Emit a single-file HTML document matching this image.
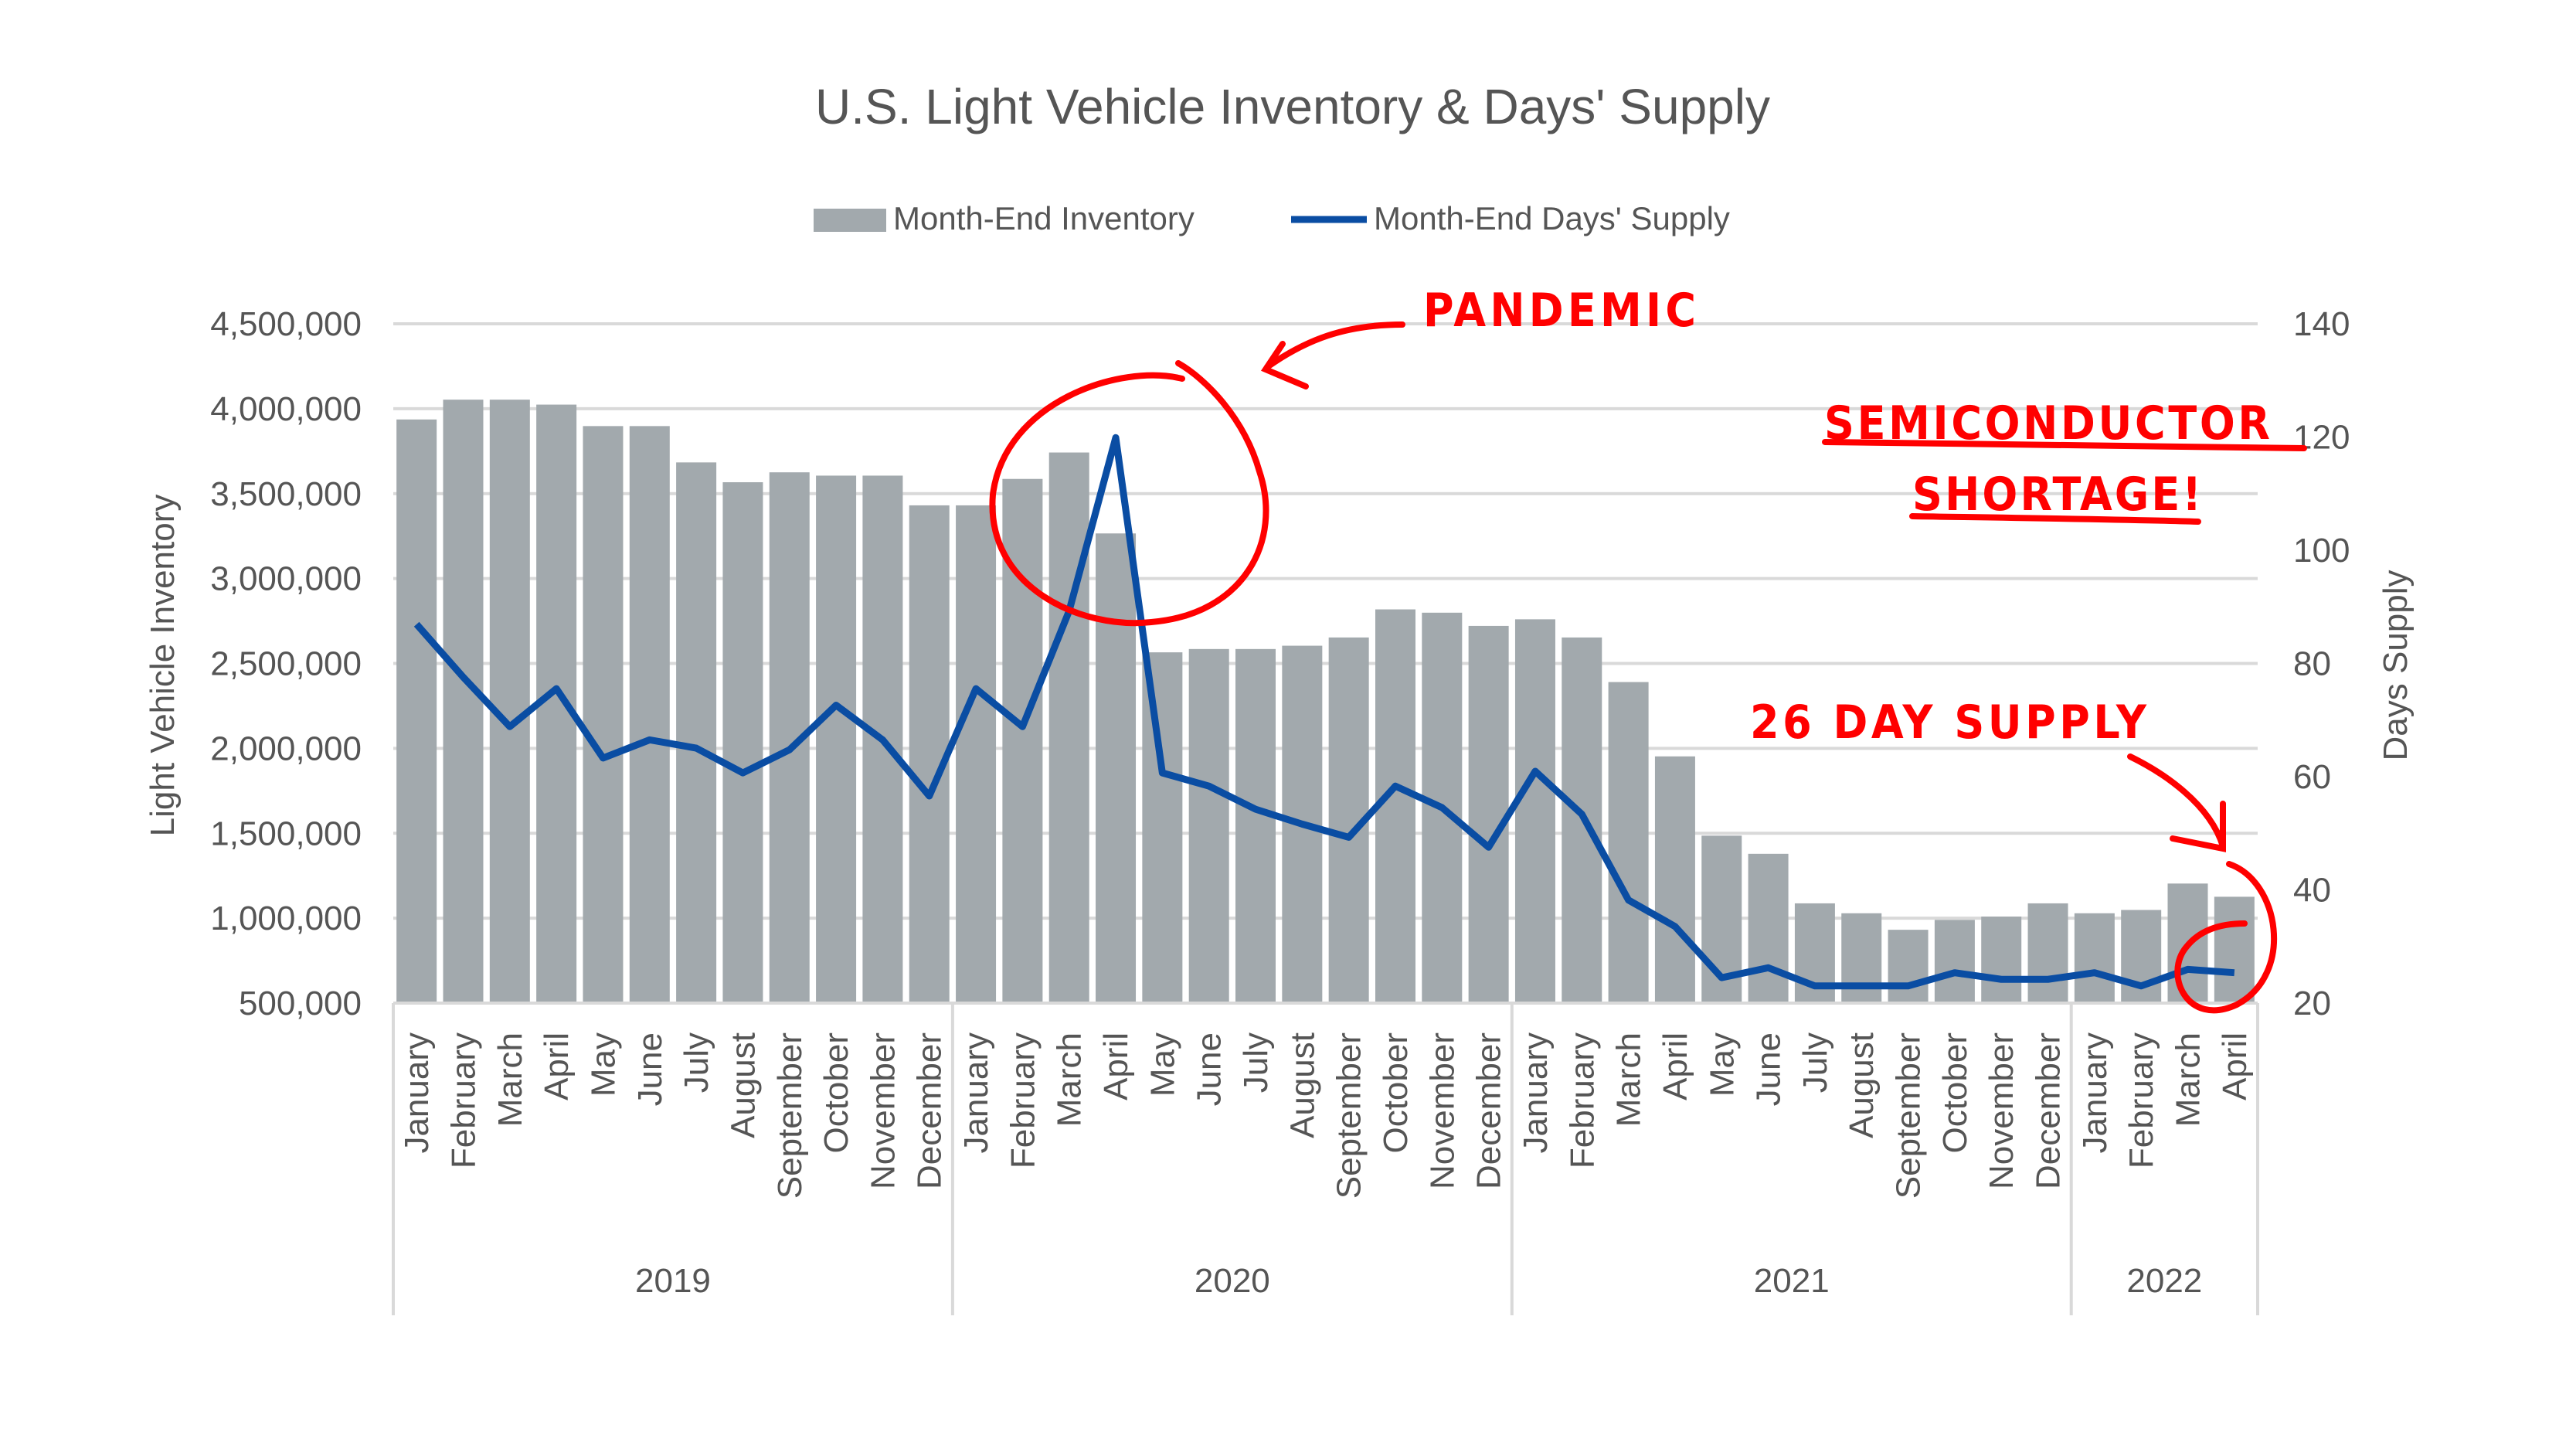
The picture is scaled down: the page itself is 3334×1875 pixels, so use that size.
<!DOCTYPE html>
<html><head><meta charset="utf-8"><style>
html,body{margin:0;padding:0;background:#fff;}
svg{display:block;font-family:"Liberation Sans",sans-serif;}
</style></head><body>
<svg id="s" width="3334" height="1875" viewBox="0 0 3334 1875" xmlns="http://www.w3.org/2000/svg">
<rect width="3334" height="1875" fill="#fff"/>
<text x="1673" y="160" font-size="64" fill="#555" text-anchor="middle">U.S. Light Vehicle Inventory &amp; Days' Supply</text>
<rect x="1053" y="270" width="94" height="30" fill="#a2a9ad"/>
<text x="1156" y="297" font-size="42" fill="#555">Month-End Inventory</text>
<line x1="1671" y1="284" x2="1769" y2="284" stroke="#0a4da3" stroke-width="9"/>
<text x="1778" y="297" font-size="42" fill="#555">Month-End Days' Supply</text>
<g id="grid"></g>
<g id="barsg"></g>
<g id="axes"></g>
<g id="lbl" font-size="44" fill="#555"></g>
<polyline id="ln" fill="none" stroke="#0a4da3" stroke-width="9" stroke-linejoin="round"/>
<text transform="translate(225,861) rotate(-90)" font-size="44" fill="#555" text-anchor="middle">Light Vehicle Inventory</text>
<text transform="translate(3115,861) rotate(-90)" font-size="44" fill="#555" text-anchor="middle">Days Supply</text>
<g fill="none" stroke="#f00" stroke-width="8" stroke-linecap="round">
<path d="M1530,490 C1450,470 1300,520 1285,640 C1275,760 1400,815 1490,805 C1610,795 1660,700 1630,610 C1610,540 1560,490 1525,470"/>
<path d="M1815,420 C1740,420 1690,440 1640,475"/>
<path d="M1660,445 L1638,478 L1690,500"/>
<path d="M2362,572 C2600,576 2800,578 2982,580"/>
<path d="M2475,668 C2600,670 2750,672 2845,675"/>
<path d="M2757,979 C2800,1000 2860,1040 2877,1095"/>
<path d="M2877,1040 L2877,1098 L2812,1085"/>
<path d="M2885,1118 C2950,1140 2970,1260 2895,1300 C2830,1330 2800,1260 2830,1225 C2850,1200 2880,1195 2905,1195"/>
</g>
<g fill="#f00" font-family="'DejaVu Sans Condensed','DejaVu Sans',sans-serif" font-weight="bold">
<text x="1842" y="422" font-size="60" textLength="353">PANDEMIC</text>
<text x="2361" y="568" font-size="60" textLength="577">SEMICONDUCTOR</text>
<text x="2475" y="660" font-size="60" textLength="374">SHORTAGE!</text>
<text x="2265" y="955" font-size="60" textLength="513">26 DAY SUPPLY</text>
</g>
</svg>
<script>
(function(){
var NS="http://www.w3.org/2000/svg";
function el(p,t,a,txt){var e=document.createElementNS(NS,t);for(var k in a)e.setAttribute(k,a[k]);if(txt!=null)e.textContent=txt;document.getElementById(p).appendChild(e);return e;}
var L=509,R=2922,T=419,B=1298,S=2.137,W=(R-L)/40;
for(var i=0;i<9;i++){var y=T+i*(B-T)/8;el("grid","line",{x1:L,x2:R,y1:y,y2:y,stroke:"#d9d9d9","stroke-width":4});
el("lbl","text",{x:468,y:y+15,"text-anchor":"end"},(4500000-i*500000).toLocaleString("en-US"));}
for(var i=0;i<7;i++){var y=T+i*(B-T)/6;el("lbl","text",{x:2968,y:y+15},String(140-i*20));}
var bv=[254,242,242,245,258,258,280,292,286,288,288,306,306,290,274,323,395,393,393,391,386,369,371,379,375,386,413,458,506,517,547,553,563,557,555,547,553,551,535,543];
var lv=[378,410,440,417,459,448,453,468,454,427,448,482,417,440,370,265,468,476,490,499,507,476,489,513,467,493,545,561,592,586,597,597,597,589,593,593,589,597,587,589];
var m=["January","February","March","April","May","June","July","August","September","October","November","December"];
var pts=[];
for(var i=0;i<40;i++){var cx=L+(i+0.5)*W,yt=bv[i]*S;
el("barsg","rect",{x:cx-26,y:yt,width:52,height:B-yt,fill:"#a2a9ad"});
pts.push(cx+","+(lv[i]*S));
el("lbl","text",{transform:"translate("+(cx+15)+",1336) rotate(-90)","text-anchor":"end"},m[i%12]);}
document.getElementById("ln").setAttribute("points",pts.join(" "));
el("axes","line",{x1:L,x2:R,y1:B,y2:B,stroke:"#d9d9d9","stroke-width":4});
[0,12,24,36,40].forEach(function(k){var x=L+k*W;el("axes","line",{x1:x,x2:x,y1:B,y2:1702,stroke:"#d9d9d9","stroke-width":4});});
[["2019",0,12],["2020",12,24],["2021",24,36],["2022",36,40]].forEach(function(a){el("lbl","text",{x:L+(a[1]+a[2])/2*W,y:1672,"text-anchor":"middle"},a[0]);});
})();
</script>
</body></html>
